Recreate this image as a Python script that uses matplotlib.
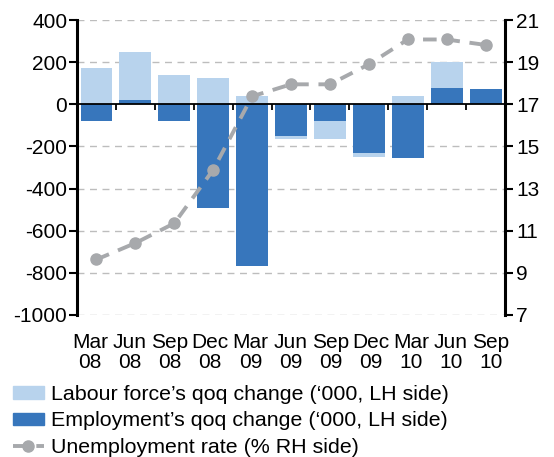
import numpy as np
import matplotlib.pyplot as plt
from matplotlib.lines import Line2D
from matplotlib.patches import Patch

plt.rcParams['font.family'] = ['Liberation Sans', 'DejaVu Sans']
plt.rcParams['axes.unicode_minus'] = False

# dane
quarters = ['Mar\n08', 'Jun\n08', 'Sep\n08', 'Dec\n08', 'Mar\n09', 'Jun\n09',
            'Sep\n09', 'Dec\n09', 'Mar\n10', 'Jun\n10', 'Sep\n10']
labour_force = [171, 248, 138, 124, 38, -165, -165, -251, 38, 200, 70]
employment = [-79, 19, -79, -494, -770, -151, -79, -229, -256, 76, 71]
unemployment = [9.63, 10.41, 11.35, 13.89, 17.38, 17.95, 17.95, 18.9, 20.08, 20.08, 19.82]

LIGHT = '#b8d3ed'
DARK = '#3776bc'
GREY = '#a7a9ac'
FS = 15

fig = plt.figure(figsize=(5.54, 4.57), dpi=100)
ax = fig.add_axes([0.139, 0.311, 0.7726, 0.645])
x = np.arange(len(quarters))

for y in np.arange(-1000, 401, 200):
    if y != 0:
        ax.axhline(y, color='#bdbdbd', lw=1, ls=(0, (5, 4)), zorder=0)

ax.bar(x, labour_force, width=0.82, color=LIGHT, zorder=2)
ax.bar(x, employment, width=0.82, color=DARK, zorder=3)
ax.axhline(0, color='black', lw=1.3, zorder=4)
# kreski podzialu kategorii pod linia zera
ax.vlines(x[:-1] + 0.5, -28, 0, color='black', lw=1.3, zorder=4)

ax.set_xlim(-0.5, len(quarters) - 0.5)
ax.set_ylim(-1000, 400)
ax.set_yticks(np.arange(-1000, 401, 200))
# etykiety w oryginale sa nieco szerzej rozstawione niz slupki
ax.set_xticks(x * 1.031 - 0.17)
ax.set_xticklabels(quarters, fontsize=FS, linespacing=1.08)
ax.tick_params(axis='x', length=0, pad=13)
ax.tick_params(axis='y', labelsize=FS, length=6, width=1.5, pad=1)
for s in ['top', 'bottom', 'right']:
    ax.spines[s].set_visible(False)
ax.spines['left'].set_linewidth(2.2)

ax2 = ax.twinx()
ax2.plot(x, unemployment, color=GREY, lw=2.8, ls=(0, (3.5, 2.5)),
         marker='o', ms=8, zorder=5)
ax2.set_ylim(7, 21)
ax2.set_yticks(np.arange(7, 22, 2))
ax2.tick_params(axis='y', labelsize=FS, length=6, width=1.5, pad=2)
for s in ['top', 'bottom', 'left']:
    ax2.spines[s].set_visible(False)
ax2.spines['right'].set_linewidth(2.2)

handles = [Patch(color=LIGHT), Patch(color=DARK),
           Line2D([], [], color=GREY, lw=2.8, ls=(0, (3.5, 2.5)), marker='o', ms=8)]
labels = ["Labour force\u2019s qoq change (\u2018000, LH side)",
          "Employment\u2019s qoq change (\u2018000, LH side)",
          "Unemployment rate (% RH side)"]
fig.legend(handles, labels, loc='upper left', bbox_to_anchor=(0.024, 1 - 385 / 457),
           frameon=False, fontsize=15.4, borderpad=0, borderaxespad=0,
           handlelength=1.42, handleheight=0.5, handletextpad=0.33, labelspacing=0.34)

fig.savefig('out.png', dpi=100)
